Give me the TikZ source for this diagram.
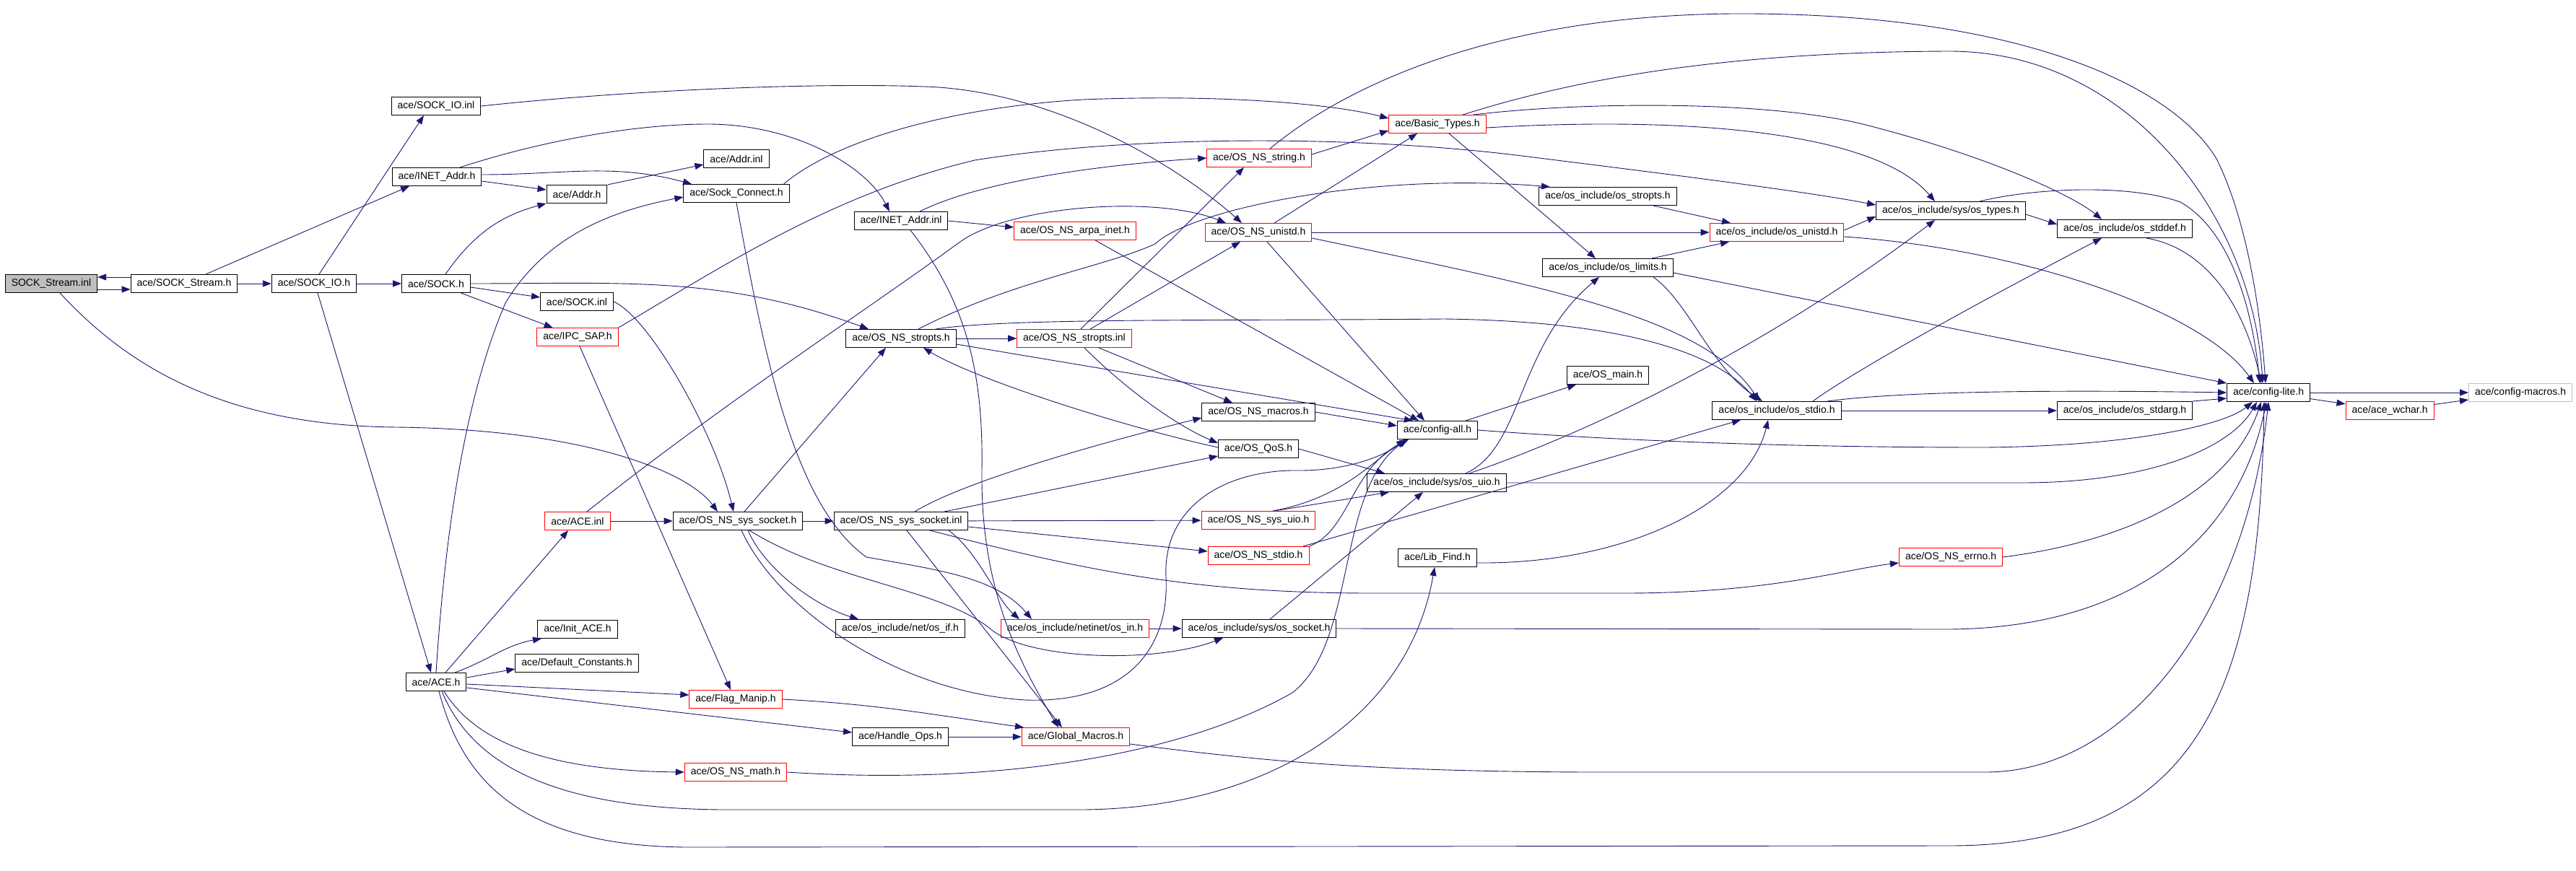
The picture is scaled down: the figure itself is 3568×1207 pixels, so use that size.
\documentclass[tikz,border=0pt]{standalone}
\usepackage{fontspec}
\setmainfont{Liberation Sans}
\usetikzlibrary{arrows.meta}
\definecolor{bleulien}{HTML}{191970}
\definecolor{grisfond}{HTML}{BFBFBF}

\begin{document}
\begin{tikzpicture}[x=1pt,y=1pt,
    entete/.style={draw=black, line width=1pt, rectangle, minimum height=25pt,
      inner xsep=8.5pt, inner ysep=0pt, font=\fontsize{14}{16}\selectfont},
    tronque/.style={entete, draw=red},
    lien/.style={draw=bleulien, line width=0.9pt, -{Triangle[length=12pt,width=9pt]}}]
    \useasboundingbox (0,0) rectangle (3568,-1207);
    % fichier de depart
    \node[entete, fill=grisfond] (stream) at (71,-393) {SOCK\_Stream.inl};
    % en-tetes, de gauche a droite
    \node[entete] (sockstreamh) at (255,-393) {ace/SOCK\_Stream.h};
    \node[entete] (sockio) at (435,-393) {ace/SOCK\_IO.h};
    \node[entete] (sock) at (604,-393) {ace/SOCK.h};
    \node[entete] (sockioinl) at (604,-147) {ace/SOCK\_IO.inl};
    \node[entete] (inetaddrh) at (605,-245) {ace/INET\_Addr.h};
    \node[entete] (aceh) at (604,-945) {ace/ACE.h};
    \node[entete] (addrinl) at (1020,-220) {ace/Addr.inl};
    \node[entete] (addrh) at (799,-269) {ace/Addr.h};
    \node[entete] (sockconnect) at (1020,-268) {ace/Sock\_Connect.h};
    \node[entete] (sockinl) at (799,-418) {ace/SOCK.inl};
    \node[tronque] (ipcsap) at (800,-467) {ace/IPC\_SAP.h};
    \node[tronque] (aceinl) at (800,-722) {ace/ACE.inl};
    \node[entete] (nssyssocket) at (1022,-722) {ace/OS\_NS\_sys\_socket.h};
    \node[entete] (initace) at (800,-872) {ace/Init\_ACE.h};
    \node[entete] (defconst) at (799,-919) {ace/Default\_Constants.h};
    \node[tronque] (flagmanip) at (1019,-969) {ace/Flag\_Manip.h};
    \node[tronque] (nsmath) at (1019,-1070) {ace/OS\_NS\_math.h};
    \node[entete] (inetaddrinl) at (1248,-306) {ace/INET\_Addr.inl};
    \node[entete] (nsstropts) at (1248,-469) {ace/OS\_NS\_stropts.h};
    \node[entete] (nssyssocketinl) at (1248,-722) {ace/OS\_NS\_sys\_socket.inl};
    \node[entete] (osif) at (1247,-871) {ace/os\_include/net/os\_if.h};
    \node[entete] (handleops) at (1247,-1021) {ace/Handle\_Ops.h};
    \node[tronque] (arpainet) at (1489,-320) {ace/OS\_NS\_arpa\_inet.h};
    \node[tronque] (nsstroptsinl) at (1488,-469) {ace/OS\_NS\_stropts.inl};
    \node[tronque] (osin) at (1489,-871) {ace/os\_include/netinet/os\_in.h};
    \node[tronque] (globalmacros) at (1490,-1021) {ace/Global\_Macros.h};
    \node[tronque] (nsstring) at (1744,-219) {ace/OS\_NS\_string.h};
    \node[tronque] (nsunistd) at (1743,-322) {ace/OS\_NS\_unistd.h};
    \node[entete] (nsmacros) at (1743,-571) {ace/OS\_NS\_macros.h};
    \node[entete] (qos) at (1743,-622) {ace/OS\_QoS.h};
    \node[tronque] (nssysuio) at (1743,-721) {ace/OS\_NS\_sys\_uio.h};
    \node[tronque] (nsstdio) at (1743,-770) {ace/OS\_NS\_stdio.h};
    \node[entete] (ossocket) at (1744,-871) {ace/os\_include/sys/os\_socket.h};
    \node[tronque] (basictypes) at (1991,-172) {ace/Basic\_Types.h};
    \node[entete] (configall) at (1991,-596) {ace/config-all.h};
    \node[entete] (osuio) at (1990,-669) {ace/os\_include/sys/os\_uio.h};
    \node[entete] (libfind) at (1991,-773) {ace/Lib\_Find.h};
    \node[entete] (osstropts) at (2227,-272) {ace/os\_include/os\_stropts.h};
    \node[entete] (oslimits) at (2227,-371) {ace/os\_include/os\_limits.h};
    \node[entete] (osmain) at (2227,-520) {ace/OS\_main.h};
    \node[tronque] (osunistd) at (2461,-322) {ace/os\_include/os\_unistd.h};
    \node[entete] (osstdio) at (2461,-569) {ace/os\_include/os\_stdio.h};
    \node[entete] (ostypes) at (2702,-292) {ace/os\_include/sys/os\_types.h};
    \node[tronque] (nserrno) at (2702,-772) {ace/OS\_NS\_errno.h};
    \node[entete] (osstddef) at (2943,-317) {ace/os\_include/os\_stddef.h};
    \node[entete] (osstdarg) at (2943,-569) {ace/os\_include/os\_stdarg.h};
    \node[entete] (configlite) at (3142,-544) {ace/config-lite.h};
    \node[tronque] (acewchar) at (3310,-569) {ace/ace\_wchar.h};
    \node[entete, draw=grisfond] (configmacros) at (3491,-544) {ace/config-macros.h};
    % SOCK_Stream
    \draw[lien] ([yshift=-8pt]stream.east) -- ([yshift=-8pt]sockstreamh.west);
    \draw[lien] ([yshift=9pt]sockstreamh.west) -- ([yshift=9pt]stream.east);
    \draw[lien] (stream) .. controls (170,-500) and (300,-590) .. (550,-592) .. controls (800,-595) and (950,-650) .. ([xshift=-28pt]nssyssocket.north);
    \draw[lien] (sockstreamh) -- (sockio);
    \draw[lien] ([xshift=30pt]sockstreamh.north) -- ([xshift=-38pt]inetaddrh.south);
    % SOCK_IO
    \draw[lien] ([xshift=7pt]sockio.north) -- ([xshift=-17pt]sockioinl.south);
    \draw[lien] (sockio) -- (sock);
    \draw[lien] ([xshift=5pt]sockio.south) -- ([xshift=-7pt]aceh.north);
    \draw[lien] (sockioinl.east) .. controls (900,-122) and (1150,-115) .. (1280,-120) .. controls (1450,-125) and (1620,-220) .. ([xshift=-23pt]nsunistd.north);
    % INET_Addr
    \draw[lien] ([xshift=32pt]inetaddrh.north) .. controls (750,-195) and (880,-172) .. (980,-172) .. controls (1100,-172) and (1200,-230) .. ([xshift=-16pt]inetaddrinl.north);
    \draw[lien] ([yshift=-6pt]inetaddrh.east) -- ([yshift=6pt]addrh.west);
    \draw[lien] ([yshift=3pt]inetaddrh.east) to[out=0,in=165] ([xshift=-62pt]sockconnect.north);
    \draw[lien] (addrh.north east) -- ([yshift=-8pt]addrinl.west);
    % SOCK
    \draw[lien] ([xshift=13pt]sock.north) to[out=55,in=195] (addrh.south west);
    \draw[lien] ([yshift=-5pt]sock.east) -- ([yshift=6pt]sockinl.west);
    \draw[lien] (sock) -- (ipcsap);
    \draw[lien] (sock.east) to[out=0,in=160] ([xshift=-45pt]nsstropts.north);
    \draw[lien] (sockinl.east) .. controls (900,-440) and (990,-600) .. ([xshift=-6pt]nssyssocket.north);
    \draw[lien] ([xshift=3pt]ipcsap.south) -- ([xshift=-7pt]flagmanip.north);
    \draw[lien] (ipcsap.north east) .. controls (1000,-370) and (1150,-270) .. (1350,-222) .. controls (1550,-190) and (1850,-185) .. (2100,-215) .. controls (2300,-240) and (2500,-265) .. ([yshift=8pt]ostypes.west);
    % Sock_Connect
    \draw[lien] ([xshift=-8pt]sockconnect.north east) .. controls (1150,-200) and (1300,-150) .. (1500,-138) .. controls (1700,-130) and (1850,-145) .. ([yshift=8pt]basictypes.west);
    \draw[lien] (sockconnect.south) .. controls (1060,-500) and (1100,-700) .. (1200,-772) .. controls (1300,-790) and (1380,-800) .. ([xshift=-60pt]osin.north);
    % ACE
    \draw[lien] (aceh.north) .. controls (615,-760) and (640,-560) .. (700,-420) .. controls (760,-320) and (860,-290) .. ([yshift=-5pt]sockconnect.west);
    \draw[lien] ([xshift=13pt]aceh.north) -- ([xshift=-13pt]aceinl.south);
    \draw[lien] ([xshift=26pt]aceh.north) to[out=20,in=190] ([xshift=-50pt]initace.south);
    \draw[lien] ([yshift=6pt]aceh.east) -- ([yshift=-8pt]defconst.west);
    \draw[lien] ([yshift=-3pt]aceh.east) -- ([yshift=6pt]flagmanip.west);
    \draw[lien] ([yshift=-8pt]aceh.east) -- ([yshift=6pt]handleops.west);
    \draw[lien] ([xshift=11pt]aceh.south) .. controls (660,-1030) and (760,-1068) .. (nsmath.west);
    \draw[lien] ([xshift=8pt]aceh.south) .. controls (650,-1050) and (750,-1120) .. (1000,-1122) -- (1500,-1122) .. controls (1750,-1120) and (1950,-1000) .. ([xshift=-4pt]libfind.south);
    \draw[lien] ([xshift=4pt]aceh.south) .. controls (640,-1080) and (720,-1172) .. (950,-1174) -- (2700,-1172) .. controls (3050,-1172) and (3130,-950) .. ([xshift=-6pt]configlite.south);
    \draw[lien] (aceinl) -- (nssyssocket);
    \draw[lien] ([xshift=13pt]aceinl.north) .. controls (1000,-560) and (1200,-430) .. (1330,-335) .. controls (1400,-285) and (1600,-270) .. ([xshift=-45pt]nsunistd.north);
    % OS_NS_sys_socket
    \draw[lien] (nssyssocket) -- (nssyssocketinl);
    \draw[lien] ([xshift=9pt]nssyssocket.north) -- ([xshift=-21pt]nsstropts.south);
    \draw[lien] ([xshift=14pt]nssyssocket.south) .. controls (1060,-790) and (1130,-840) .. ([xshift=-58pt]osif.north);
    \draw[lien] ([xshift=16pt]nssyssocket.south) .. controls (1150,-805) and (1300,-815) .. (1370,-870) .. controls (1420,-915) and (1600,-920) .. ([xshift=-50pt]ossocket.south);
    \draw[lien] ([xshift=5pt]nssyssocket.south) .. controls (1080,-850) and (1250,-960) .. (1420,-970) .. controls (1560,-975) and (1620,-900) .. (1615,-800) .. controls (1610,-700) and (1700,-650) .. (1800,-652) .. controls (1870,-652) and (1920,-630) .. ([xshift=-45pt]configall.south);
    % INET_Addr.inl, arpa_inet
    \draw[lien] (inetaddrinl.east) -- ([yshift=5pt]arpainet.west);
    \draw[lien] ([xshift=26pt]inetaddrinl.north) .. controls (1350,-255) and (1500,-230) .. (nsstring.west);
    \draw[lien] ([xshift=13pt]inetaddrinl.south) .. controls (1340,-420) and (1362,-520) .. (1360,-650) .. controls (1358,-800) and (1400,-900) .. ([xshift=-24pt]globalmacros.north);
    \draw[lien] ([xshift=28pt]arpainet.south) -- ([xshift=-26pt]configall.north);
    % OS_NS_string, OS_NS_unistd
    \draw[lien] ([yshift=5pt]nsstring.east) -- ([yshift=-9pt]basictypes.west);
    \draw[lien] ([xshift=15pt]nsstring.north) .. controls (1850,-130) and (2050,-22) .. (2400,-19) .. controls (2800,-17) and (3010,-120) .. (3070,-220) .. controls (3110,-300) and (3130,-420) .. ([xshift=-4pt]configlite.north);
    \draw[lien] ([xshift=22pt]nsunistd.north) -- ([xshift=-28pt]basictypes.south);
    \draw[lien] ([xshift=12pt]nsunistd.south) -- ([xshift=-18pt]configall.north);
    \draw[lien] (nsunistd) -- (osunistd);
    \draw[lien] ([yshift=-8pt]nsunistd.east) .. controls (2150,-400) and (2360,-440) .. ([xshift=-24pt]osstdio.north);
    % OS_NS_stropts
    \draw[lien] (nsstropts) -- (nsstroptsinl);
    \draw[lien] ([xshift=24pt]nsstropts.north) .. controls (1400,-390) and (1530,-370) .. (1600,-338) .. controls (1650,-290) and (1900,-238) .. ([xshift=-80pt]osstropts.north);
    \draw[lien] ([xshift=48pt]nsstropts.north) .. controls (1400,-440) and (1700,-445) .. (2000,-442) .. controls (2250,-445) and (2380,-490) .. ([xshift=-28pt]osstdio.north);
    \draw[lien] ([yshift=-8pt]nsstropts.east) -- ([xshift=-34pt]configall.north);
    \draw[lien] ([xshift=9pt]nsstroptsinl.north) -- ([xshift=-21pt]nsstring.south);
    \draw[lien] ([xshift=22pt]nsstroptsinl.north) -- ([xshift=-25pt]nsunistd.south);
    \draw[lien] ([xshift=34pt]nsstroptsinl.south) -- ([xshift=-36pt]nsmacros.north);
    \draw[lien] ([xshift=14pt]nsstroptsinl.south) .. controls (1560,-540) and (1630,-590) .. ([yshift=8pt]qos.west);
    % OS_QoS
    \draw[lien] ([yshift=2pt]qos.west) .. controls (1550,-590) and (1350,-525) .. ([xshift=31pt]nsstropts.south);
    \draw[lien] (qos.east) -- ([xshift=-72pt]osuio.north);
    % OS_NS_sys_socket.inl
    \draw[lien] ([xshift=19pt]nssyssocketinl.north) .. controls (1330,-670) and (1500,-620) .. ([yshift=-8pt]nsmacros.west);
    \draw[lien] ([xshift=60pt]nssyssocketinl.north) -- ([yshift=-10pt]qos.west);
    \draw[lien] (nssyssocketinl) -- (nssysuio);
    \draw[lien] ([yshift=-8pt]nssyssocketinl.east) -- ([yshift=6pt]nsstdio.west);
    \draw[lien] ([xshift=40pt]nssyssocketinl.south) .. controls (1500,-790) and (1650,-822) .. (1900,-822) -- (2250,-822) .. controls (2450,-822) and (2550,-790) .. ([yshift=-8pt]nserrno.west);
    \draw[lien] ([xshift=66pt]nssyssocketinl.south) .. controls (1355,-765) and (1380,-830) .. ([xshift=-77pt]osin.north);
    \draw[lien] ([xshift=8pt]nssyssocketinl.south) -- ([xshift=-19pt]globalmacros.north);
    % os_in, os_socket
    \draw[lien] (osin) -- (ossocket);
    \draw[lien] ([xshift=15pt]ossocket.north) -- ([xshift=-19pt]osuio.south);
    \draw[lien] (ossocket.east) -- (2700,-872) .. controls (2950,-870) and (3100,-750) .. ([xshift=-3pt]configlite.south);
    % Flag_Manip, Handle_Ops, Global_Macros, OS_NS_math
    \draw[lien] (flagmanip.east) to[out=-3,in=172] ([xshift=-72pt]globalmacros.north);
    \draw[lien] (handleops) -- (globalmacros);
    \draw[lien] ([yshift=-10pt]globalmacros.east) .. controls (1750,-1055) and (1900,-1069) .. (2200,-1070) -- (2750,-1070) .. controls (2950,-1070) and (3110,-850) .. (configlite.south);
    \draw[lien] (nsmath.east) .. controls (1400,-1090) and (1650,-1040) .. (1790,-960) .. controls (1880,-890) and (1850,-680) .. ([xshift=-42pt]configall.south);
    % OS_NS_macros, sys_uio, stdio
    \draw[lien] (nsmacros.east) -- ([yshift=6pt]configall.west);
    \draw[lien] ([xshift=20pt]nssysuio.north) .. controls (1860,-690) and (1900,-640) .. ([xshift=-44pt]configall.south);
    \draw[lien] ([xshift=22pt]nssysuio.north) -- ([xshift=-66pt]osuio.south);
    \draw[lien] (nsstdio.north east) .. controls (1870,-735) and (1870,-650) .. ([xshift=-40pt]configall.south);
    \draw[lien] ([xshift=62pt]nsstdio.north) -- ([xshift=-50pt]osstdio.south);
    % Basic_Types
    \draw[lien] ([xshift=16pt]basictypes.south) -- ([xshift=-17pt]oslimits.north);
    \draw[lien] ([yshift=-5pt]basictypes.east) .. controls (2350,-160) and (2600,-185) .. ([xshift=-22pt]ostypes.north);
    \draw[lien] ([xshift=50pt]basictypes.north) .. controls (2200,-140) and (2450,-140) .. (2580,-172) .. controls (2750,-215) and (2870,-270) .. ([xshift=-32pt]osstddef.north);
    \draw[lien] ([xshift=35pt]basictypes.north) .. controls (2150,-120) and (2350,-72) .. (2700,-71) .. controls (2950,-71) and (3120,-300) .. ([xshift=-8pt]configlite.north);
    % os_stropts, os_limits, config-all
    \draw[lien] ([xshift=63pt]osstropts.south) -- ([xshift=-64pt]osunistd.north);
    \draw[lien] ([xshift=61pt]oslimits.north) -- ([xshift=-66pt]osunistd.south);
    \draw[lien] ([xshift=63pt]oslimits.south) .. controls (2340,-420) and (2370,-510) .. ([xshift=-20pt]osstdio.north);
    \draw[lien] ([yshift=-7pt]oslimits.east) -- (configlite.north west);
    \draw[lien] ([xshift=39pt]configall.north) -- ([xshift=-44pt]osmain.south);
    \draw[lien] (configall.east) .. controls (2300,-615) and (2550,-620) .. (2750,-620) .. controls (2950,-618) and (3080,-590) .. ([xshift=-22pt]configlite.south);
    % os_uio, Lib_Find
    \draw[lien] ([xshift=40pt]osuio.north) .. controls (2110,-620) and (2100,-480) .. ([xshift=-12pt]oslimits.south);
    \draw[lien] ([xshift=45pt]osuio.north) .. controls (2200,-600) and (2450,-480) .. ([xshift=-22pt]ostypes.south);
    \draw[lien] (osuio.east) -- (2800,-669) .. controls (2980,-669) and (3090,-620) .. ([xshift=-16pt]configlite.south);
    \draw[lien] ([yshift=-7pt]libfind.east) .. controls (2250,-782) and (2420,-700) .. ([xshift=-12pt]osstdio.south);
    % os_unistd, os_stdio
    \draw[lien] ([yshift=3pt]osunistd.east) -- ([yshift=-8pt]ostypes.west);
    \draw[lien] ([yshift=-6pt]osunistd.east) .. controls (2800,-345) and (3050,-430) .. ([xshift=-20pt]configlite.north);
    \draw[lien] ([xshift=50pt]osstdio.north) .. controls (2560,-520) and (2700,-440) .. ([xshift=-32pt]osstddef.south);
    \draw[lien] (osstdio) -- (osstdarg);
    \draw[lien] ([xshift=70pt]osstdio.north) .. controls (2650,-540) and (2900,-541) .. (configlite.west);
    % os_types, os_stddef, os_stdarg, errno
    \draw[lien] ([yshift=-5pt]ostypes.east) -- ([yshift=6pt]osstddef.west);
    \draw[lien] ([xshift=40pt]ostypes.north) .. controls (2820,-260) and (2950,-255) .. (3020,-280) .. controls (3090,-320) and (3120,-430) .. ([xshift=-12pt]configlite.north);
    \draw[lien] ([xshift=30pt]osstddef.south) .. controls (3060,-345) and (3110,-430) .. ([xshift=-10pt]configlite.north);
    \draw[lien] (osstdarg.north east) -- ([yshift=-8pt]configlite.west);
    \draw[lien] (nserrno.east) .. controls (2950,-750) and (3090,-680) .. ([xshift=-10pt]configlite.south);
    % config-lite
    \draw[lien] (configlite) -- (configmacros);
    \draw[lien] (configlite) -- (acewchar);
    \draw[lien] (acewchar) -- (configmacros);
  \end{tikzpicture}
\end{document}
